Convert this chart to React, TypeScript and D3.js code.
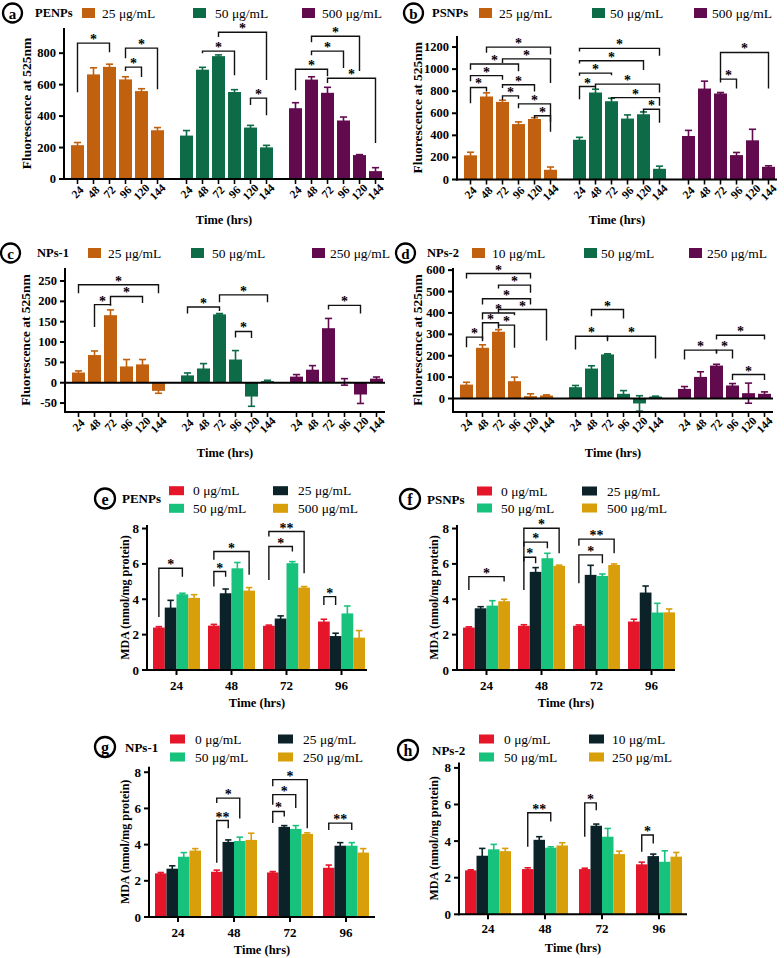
import React from 'react';
import * as d3 from 'd3';

const FONT = '"Liberation Serif", "Times New Roman", Times, serif';

// ---------- categories ----------
const TIMES_FL = ['24', '48', '72', '96', '120', '144'];
const TIMES_MDA = ['24', '48', '72', '96'];

const FL_COLORS = ['#C1600E', '#0E6B47', '#610B4E'];
const MDA_COLORS = ['#E5162A', '#0B2328', '#17C27D', '#D89F0B'];

// ---------- panel a: PENPs fluorescence ----------
const aLabels = ['25 μg/mL', '50 μg/mL', '500 μg/mL'];
const aMeans = [
  [215, 665, 713, 633, 559, 310],
  [276, 695, 781, 553, 327, 201],
  [450, 632, 548, 372, 152, 50],
];
const aErrs = [
  [17, 42, 17, 17, 15, 17],
  [32, 15, 8, 15, 14, 13],
  [35, 18, 35, 22, 3, 22],
];
// [group, fromBar, toBar, top, leftEnd, rightEnd, label]
const aBrackets: [number, number, number, number, number, number, string][] = [
  [0, 0, 2, 864, 552, 806, '*'], [0, 3, 5, 832, 768, 571, '*'], [0, 3, 4, 711, 686, 648, '*'],
  [1, 1, 3, 813, 800, 660, '*'], [1, 2, 5, 933, 902, 629, '*'], [1, 4, 5, 514, 470, 406, '*'],
  [2, 0, 2, 698, 565, 654, '*'], [2, 1, 3, 813, 787, 705, '*'], [2, 1, 4, 908, 870, 686, '*'], [2, 2, 5, 641, 610, 229, '*'],
];
const aTicks = [0, 200, 400, 600, 800];

// ---------- panel b: PSNPs fluorescence ----------
const bLabels = ['25 μg/mL', '50 μg/mL', '500 μg/mL'];
const bMeans = [
  [219, 752, 703, 502, 548, 88],
  [360, 788, 709, 552, 591, 97],
  [394, 824, 779, 221, 355, 115],
];
const bErrs = [
  [28, 33, 15, 20, 12, 25],
  [22, 30, 27, 33, 21, 24],
  [51, 67, 9, 24, 100, 9],
];
const bBrackets: [number, number, number, number, number, number, string][] = [
  [0, 1, 5, 1199, 1148, 1132, '*'], [0, 2, 5, 1093, 1056, 874, '*'], [0, 0, 3, 1047, 995, 980, '*'],
  [0, 0, 2, 941, 889, 904, '*'], [0, 2, 4, 858, 828, 798, '*'], [0, 0, 1, 834, 691, 798, '*'],
  [0, 2, 3, 758, 721, 731, '*'], [0, 3, 5, 685, 645, 524, '*'], [0, 4, 5, 578, 554, 432, '*'],
  [1, 0, 5, 1188, 1160, 1120, '*'], [1, 0, 4, 1076, 1050, 991, '*'], [1, 0, 2, 964, 940, 945, '*'],
  [1, 0, 1, 842, 727, 820, '*'], [1, 1, 5, 864, 845, 788, '*'], [1, 2, 5, 742, 725, 667, '*'],
  [1, 4, 5, 636, 606, 515, '*'],
  [2, 2, 5, 1151, 909, 824, '*'], [2, 2, 3, 909, 879, 824, '*'],
];
const bTicks = [0, 200, 400, 600, 800, 1000, 1200];

// ---------- panel c: NPs-1 fluorescence ----------
const cLabels = ['25 μg/mL', '50 μg/mL', '250 μg/mL'];
const cMeans = [
  [25, 68, 166, 40, 45, -20],
  [18, 35, 168, 57, -34, 4],
  [15, 32, 134, 2, -29, 10],
];
const cErrs = [
  [4, 10, 13, 17, 12, 6],
  [6, 12, 2, 22, 24, 2],
  [5, 10, 24, 8, 22, 4],
];
const cBrackets: [number, number, number, number, number, number, string][] = [
  [0, 0, 5, 241, 220, 220, '*'], [0, 2, 4, 212, 190, 196, '*'], [0, 1, 2, 192, 137, 190, '*'],
  [1, 0, 2, 186, 170, 176, '*'], [1, 2, 5, 216, 198, 198, '*'], [1, 3, 4, 126, 111, 110, '*'],
  [2, 2, 4, 190, 180, 170, '*'],
];
const cTicks = [-50, 0, 50, 100, 150, 200, 250];

// ---------- panel d: NPs-2 fluorescence ----------
const dLabels = ['10 μg/mL', '50 μg/mL', '250 μg/mL'];
const dMeans = [
  [65, 237, 312, 81, 11, 14],
  [53, 140, 206, 22, -23, 9],
  [45, 101, 154, 61, 25, 22],
];
const dErrs = [
  [11, 14, 10, 19, 11, 3],
  [8, 13, 3, 15, 36, 2],
  [11, 24, 6, 9, 47, 9],
];
const dBrackets: [number, number, number, number, number, number, string][] = [
  [0, 0, 4, 584, 561, 561, '*'], [0, 2, 4, 530, 514, 494, '*'], [0, 1, 4, 466, 439, 439, '*'],
  [0, 2, 5, 416, 400, 271, '*'], [0, 1, 3, 400, 369, 389, '*'], [0, 1, 2, 354, 268, 338, '*'],
  [0, 2, 3, 343, 327, 237, '*'], [0, 0, 1, 287, 240, 276, '*'],
  [1, 1, 3, 416, 385, 374, '*'], [1, 0, 2, 291, 229, 268, '*'], [1, 2, 5, 291, 276, 187, '*'],
  [2, 2, 5, 296, 276, 276, '*'], [2, 0, 2, 226, 182, 213, '*'], [2, 2, 3, 226, 209, 187, '*'],
  [2, 3, 5, 112, 86, 86, '*'],
];
const dTicks = [0, 100, 200, 300, 400, 500, 600];

// ---------- MDA panels (series x time) ----------
const mdaTicks = [0, 2, 4, 6, 8];

const eLabels = ['0 μg/mL', '25 μg/mL', '50 μg/mL', '500 μg/mL'];
const eMeans = [
  [2.40, 2.51, 2.50, 2.74],
  [3.53, 4.34, 2.91, 1.92],
  [4.28, 5.75, 6.04, 3.20],
  [4.08, 4.49, 4.66, 1.83],
];
const eErrs = [
  [0.05, 0.07, 0.04, 0.13],
  [0.41, 0.24, 0.15, 0.16],
  [0.06, 0.33, 0.09, 0.42],
  [0.18, 0.17, 0.06, 0.40],
];
// [timeGroup, fromSeries, toSeries, top, leftEnd, rightEnd, label]
const eBrackets: [number, number, number, number, number, number, string][] = [
  [0, 0, 2, 5.75, 3.0, 5.28, '*'], [1, 0, 1, 5.57, 4.72, 5.28, '*'], [1, 0, 3, 6.70, 6.23, 5.38, '*'],
  [2, 0, 2, 6.98, 5.09, 6.70, '*'], [2, 0, 3, 7.83, 7.55, 5.47, '**'], [3, 0, 1, 4.15, 3.68, 3.68, '*'],
];

const fLabels = ['0 μg/mL', '25 μg/mL', '50 μg/mL', '500 μg/mL'];
const fMeans = [
  [2.40, 2.50, 2.50, 2.74],
  [3.49, 5.55, 5.38, 4.38],
  [3.64, 6.32, 5.32, 3.25],
  [3.89, 5.89, 5.94, 3.26],
];
const fErrs = [
  [0.04, 0.06, 0.05, 0.13],
  [0.09, 0.24, 0.54, 0.37],
  [0.28, 0.28, 0.11, 0.52],
  [0.11, 0.04, 0.06, 0.19],
];
const fBrackets: [number, number, number, number, number, number, string][] = [
  [0, 0, 3, 5.28, 4.53, 5.0, '*'], [1, 0, 1, 6.38, 6.13, 6.04, '*'], [1, 0, 2, 7.23, 6.98, 6.89, '*'],
  [1, 0, 3, 8.02, 4.53, 6.60, '*'], [2, 0, 2, 6.51, 4.9, 6.04, '*'], [2, 0, 3, 7.40, 7.02, 6.60, '**'],
];

const gLabels = ['0 μg/mL', '25 μg/mL', '50 μg/mL', '250 μg/mL'];
const gMeans = [
  [2.41, 2.50, 2.46, 2.72],
  [2.67, 4.15, 4.98, 3.94],
  [3.33, 4.20, 4.87, 3.94],
  [3.67, 4.26, 4.59, 3.56],
];
const gErrs = [
  [0.05, 0.09, 0.05, 0.15],
  [0.16, 0.11, 0.07, 0.17],
  [0.23, 0.21, 0.18, 0.17],
  [0.11, 0.37, 0.06, 0.22],
];
const gBrackets: [number, number, number, number, number, number, string][] = [
  [1, 0, 1, 5.33, 3.0, 4.9, '**'], [1, 0, 2, 6.57, 6.30, 5.44, '*'], [2, 0, 1, 5.83, 5.19, 5.56, '*'],
  [2, 0, 2, 6.76, 6.20, 6.02, '*'], [2, 0, 3, 7.59, 7.22, 4.9, '*'], [3, 0, 2, 5.19, 4.81, 4.81, '**'],
];

const hLabels = ['0 μg/mL', '10 μg/mL', '50 μg/mL', '250 μg/mL'];
const hMeans = [
  [2.40, 2.47, 2.47, 2.73],
  [3.20, 4.07, 4.84, 3.18],
  [3.55, 3.64, 4.24, 2.87],
  [3.45, 3.76, 3.29, 3.15],
];
const hErrs = [
  [0.03, 0.07, 0.05, 0.12],
  [0.40, 0.17, 0.09, 0.11],
  [0.27, 0.05, 0.45, 0.60],
  [0.15, 0.15, 0.16, 0.23],
];
const hBrackets: [number, number, number, number, number, number, string][] = [
  [1, 0, 2, 5.55, 3.69, 5.07, '**'], [2, 0, 1, 6.09, 4.24, 5.69, '*'], [3, 0, 1, 4.33, 3.42, 3.87, '*'],
];

// ---------- shared pieces ----------
function CircleLetter({ cx, cy, r, letter, size }: any) {
  return (
    <g>
      <circle cx={cx} cy={cy} r={r} fill="none" stroke="#000" strokeWidth={2.3} />
      <text x={cx} y={cy + 0.5} textAnchor="middle" dominantBaseline="central" fontWeight="bold" fontSize={size}>{letter}</text>
    </g>
  );
}

function ErrorBar({ x, w, y, v, e, color }: any) {
  const lo = y(v - e), hi = y(v + e);
  const cw = w * 0.55;
  return (
    <g stroke={color} strokeWidth={1.6}>
      <line x1={x} x2={x} y1={lo} y2={hi} />
      <line x1={x - cw / 2} x2={x + cw / 2} y1={hi} y2={hi} />
      <line x1={x - cw / 2} x2={x + cw / 2} y1={lo} y2={lo} />
    </g>
  );
}

function Bracket({ x1, x2, y, top, l, r, label }: any) {
  return (
    <g>
      <path d={`M${x1},${y(l)}V${y(top)}H${x2}V${y(r)}`} fill="none" stroke="#111" strokeWidth={1.4} />
      <text x={(x1 + x2) / 2} y={y(top) + 1} textAnchor="middle" fontWeight="bold" fontSize={14}>{label}</text>
    </g>
  );
}

// ---------- fluorescence panel ----------
function FlPanel({ c }: any) {
  const y = d3.scaleLinear().domain(c.domain).range([c.yBottom, c.yTop]);
  const gx = d3.scaleBand<string>().domain(['0', '1', '2']).range([c.x0 + 7, c.x0 + 318]).paddingInner(0.1468);
  const bx = d3.scaleBand<string>().domain(TIMES_FL).range([0, gx.bandwidth()]).paddingInner(0.1875);
  const bw = bx.bandwidth();
  const cxOf = (g: number, i: number) => (gx(String(g)) as number) + (bx(TIMES_FL[i]) as number) + bw / 2;
  const xEnd = c.x0 + 320;
  const zero = y(0);
  return (
    <g>
      {/* legend */}
      <CircleLetter cx={c.circle[0]} cy={c.circle[1]} r={9.5} letter={c.letter} size={15} />
      <text x={c.nameX} y={c.legendY} dominantBaseline="central" fontWeight="bold" fontSize={12.5}>{c.name}</text>
      {c.labels.map((lab: string, k: number) => (
        <g key={k}>
          <rect x={c.sqX[k]} y={c.legendY - 5} width={13} height={10} fill={FL_COLORS[k]} />
          <text x={c.txtX[k]} y={c.legendY} dominantBaseline="central" fontSize={13.5}>{lab}</text>
        </g>
      ))}
      {/* error bars then bars */}
      {c.means.map((row: number[], g: number) => row.map((v, i) => (
        <ErrorBar key={`e${g}${i}`} x={cxOf(g, i)} w={bw} y={y} v={v} e={c.errs[g][i]} color={FL_COLORS[g]} />
      )))}
      {c.means.map((row: number[], g: number) => row.map((v, i) => (
        <rect key={`b${g}${i}`} x={cxOf(g, i) - bw / 2} width={bw}
          y={Math.min(y(v), zero)} height={Math.abs(y(v) - zero)} fill={FL_COLORS[g]} />
      )))}
      {/* zero line */}
      {c.domain[0] < 0 && <line x1={c.x0} x2={xEnd} y1={zero} y2={zero} stroke="#000" strokeWidth={2} />}
      {/* axes */}
      <line x1={c.x0} x2={c.x0} y1={c.yTop} y2={c.yBottom + 1} stroke="#000" strokeWidth={2} />
      <line x1={c.x0 - 1} x2={xEnd} y1={c.yBottom} y2={c.yBottom} stroke="#000" strokeWidth={2} />
      {c.ticks.map((t: number) => (
        <g key={t}>
          <line x1={c.x0 - 5} x2={c.x0} y1={y(t)} y2={y(t)} stroke="#000" strokeWidth={2} />
          <text x={c.x0 - 8} y={y(t)} textAnchor="end" dominantBaseline="central" fontWeight="bold" fontSize={12.5}>{t}</text>
        </g>
      ))}
      {c.means.map((row: number[], g: number) => row.map((_v, i) => {
        const x = cxOf(g, i);
        return (
          <g key={`t${g}${i}`}>
            <line x1={x} x2={x} y1={c.yBottom} y2={c.yBottom + 5} stroke="#000" strokeWidth={1.6} />
            <text transform={`translate(${x},${c.yBottom + 13}) rotate(-45)`} textAnchor="middle" dominantBaseline="central" fontWeight="bold" fontSize={11.5}>{TIMES_FL[i]}</text>
          </g>
        );
      }))}
      <text x={(c.x0 + xEnd) / 2} y={c.timeY} textAnchor="middle" dominantBaseline="central" fontWeight="bold" fontSize={12.5}>Time (hrs)</text>
      <text transform={`translate(${c.ylabX},${(c.yTop + c.yBottom) / 2}) rotate(-90)`} textAnchor="middle" dominantBaseline="central" fontWeight="bold" fontSize={13.5}>Fluorescence at 525nm</text>
      {/* brackets */}
      {c.brackets.map((b: any, k: number) => (
        <Bracket key={`k${k}`} x1={cxOf(b[0], b[1])} x2={cxOf(b[0], b[2])} y={y} top={b[3]} l={b[4]} r={b[5]} label={b[6]} />
      ))}
    </g>
  );
}

// ---------- MDA panel ----------
function MdaPanel({ c }: any) {
  const y = d3.scaleLinear().domain(c.domain).range([c.yBottom, c.yTop]);
  const start = c.x0 + 6;
  const gx = d3.scaleBand<string>().domain(TIMES_MDA).range([start, start + c.pitch * 3 + c.gw]).paddingInner((c.pitch - c.gw) / c.pitch);
  const bx = d3.scaleBand<string>().domain(['0', '1', '2', '3']).range([0, gx.bandwidth()]);
  const bw = bx.bandwidth();
  const cxOf = (t: number, s: number) => (gx(TIMES_MDA[t]) as number) + (bx(String(s)) as number) + bw / 2;
  const zero = y(0);
  return (
    <g>
      <CircleLetter cx={c.circle[0]} cy={c.circle[1]} r={10} letter={c.letter} size={16} />
      <text x={c.nameX} y={c.circle[1]} dominantBaseline="central" fontWeight="bold" fontSize={13}>{c.name}</text>
      {c.labels.map((lab: string, k: number) => {
        const col = k % 2, row = Math.floor(k / 2);
        return (
          <g key={k}>
            <rect x={c.sqX[col]} y={c.rows[row] - 4.5} width={15} height={9} fill={MDA_COLORS[k]} />
            <text x={c.txtX[col]} y={c.rows[row]} dominantBaseline="central" fontSize={13.5}>{lab}</text>
          </g>
        );
      })}
      {c.means.map((row: number[], s: number) => row.map((v, t) => (
        <ErrorBar key={`e${s}${t}`} x={cxOf(t, s)} w={bw} y={y} v={v} e={c.errs[s][t]} color={MDA_COLORS[s]} />
      )))}
      {c.means.map((row: number[], s: number) => row.map((v, t) => (
        <rect key={`b${s}${t}`} x={cxOf(t, s) - bw / 2} width={bw} y={y(v)} height={zero - y(v)} fill={MDA_COLORS[s]} />
      )))}
      <line x1={c.x0} x2={c.x0} y1={c.yTop} y2={c.yBottom + 1} stroke="#000" strokeWidth={2} />
      <line x1={c.x0 - 1} x2={c.xEnd} y1={c.yBottom} y2={c.yBottom} stroke="#000" strokeWidth={2} />
      {mdaTicks.map((t) => (
        <g key={t}>
          <line x1={c.x0 - 5} x2={c.x0} y1={y(t)} y2={y(t)} stroke="#000" strokeWidth={2} />
          <text x={c.x0 - 8} y={y(t)} textAnchor="end" dominantBaseline="central" fontWeight="bold" fontSize={13}>{t}</text>
        </g>
      ))}
      {TIMES_MDA.map((tl) => {
        const x = (gx(tl) as number) + gx.bandwidth() / 2;
        return (
          <g key={tl}>
            <line x1={x} x2={x} y1={c.yBottom} y2={c.yBottom + 5} stroke="#000" strokeWidth={2} />
            <text x={x} y={c.tickY} textAnchor="middle" dominantBaseline="central" fontWeight="bold" fontSize={13}>{tl}</text>
          </g>
        );
      })}
      <text x={(c.x0 + c.xEnd) / 2} y={c.timeY} textAnchor="middle" dominantBaseline="central" fontWeight="bold" fontSize={12.5}>Time (hrs)</text>
      <text transform={`translate(${c.ylabX},${(c.yTop + c.yBottom) / 2}) rotate(-90)`} textAnchor="middle" dominantBaseline="central" fontWeight="bold" fontSize={12}>MDA (nmol/mg protein)</text>
      {c.brackets.map((b: any, k: number) => (
        <Bracket key={`k${k}`} x1={cxOf(b[0], b[1])} x2={cxOf(b[0], b[2])} y={y} top={b[3]} l={b[4]} r={b[5]} label={b[6]} />
      ))}
    </g>
  );
}

// ---------- layout ----------
const panelA = { letter: 'a', name: 'PENPs', labels: aLabels, means: aMeans, errs: aErrs, brackets: aBrackets, ticks: aTicks,
  x0: 64, yBottom: 179, yTop: 28, domain: [0, 960], circle: [12.5, 13], nameX: 35, sqX: [82, 193, 302], txtX: [102, 215, 322], legendY: 13, ylabX: 26, timeY: 220 };
const panelB = { letter: 'b', name: 'PSNPs', labels: bLabels, means: bMeans, errs: bErrs, brackets: bBrackets, ticks: bTicks,
  x0: 457, yBottom: 179.5, yTop: 36, domain: [0, 1300], circle: [413.5, 13], nameX: 432, sqX: [479, 592, 694], txtX: [499, 610, 712], legendY: 13, ylabX: 417, timeY: 220 };
const panelC = { letter: 'c', name: 'NPs-1', labels: cLabels, means: cMeans, errs: cErrs, brackets: cBrackets, ticks: cTicks,
  x0: 65, yBottom: 412, yTop: 268, domain: [-72, 282], circle: [10.5, 253], nameX: 37, sqX: [88, 191, 312], txtX: [108, 212, 330], legendY: 253, ylabX: 25, timeY: 453 };
const panelD = { letter: 'd', name: 'NPs-2', labels: dLabels, means: dMeans, errs: dErrs, brackets: dBrackets, ticks: dTicks,
  x0: 453, yBottom: 412, yTop: 268, domain: [-63, 610], circle: [405.5, 253], nameX: 427, sqX: [472, 584, 689], txtX: [492, 601, 707], legendY: 253, ylabX: 417, timeY: 453 };

const panelE = { letter: 'e', name: 'PENPs', labels: eLabels, means: eMeans, errs: eErrs, brackets: eBrackets,
  x0: 147, xEnd: 367, pitch: 55, gw: 47, yBottom: 670, yTop: 525, domain: [0, 8.2], circle: [105, 498.5], nameX: 122,
  sqX: [169, 273], txtX: [193, 298], rows: [490.7, 508.3], ylabX: 125, tickY: 685, timeY: 703 };
const panelF = { letter: 'f', name: 'PSNPs', labels: fLabels, means: fMeans, errs: fErrs, brackets: fBrackets,
  x0: 457, xEnd: 675, pitch: 55, gw: 47, yBottom: 670, yTop: 525, domain: [0, 8.2], circle: [410, 499], nameX: 427,
  sqX: [477, 582], txtX: [501, 607], rows: [491, 508], ylabX: 434, tickY: 685, timeY: 703 };
const panelG = { letter: 'g', name: 'NPs-1', labels: gLabels, means: gMeans, errs: gErrs, brackets: gBrackets,
  x0: 149, xEnd: 375, pitch: 56, gw: 46, yBottom: 917, yTop: 766.8, domain: [0, 8.3], circle: [105, 747], nameX: 125,
  sqX: [170, 278], txtX: [195, 303], rows: [739, 757], ylabX: 125, tickY: 932, timeY: 950 };
const panelH = { letter: 'h', name: 'NPs-2', labels: hLabels, means: hMeans, errs: hErrs, brackets: hBrackets,
  x0: 459, xEnd: 687, pitch: 57, gw: 46, yBottom: 914.3, yTop: 762.4, domain: [0, 8.3], circle: [408, 750], nameX: 432,
  sqX: [479, 589], txtX: [504, 612], rows: [739, 757], ylabX: 434, tickY: 928, timeY: 948 };

export default function App() {
  return (
    <svg width={784} height={958} viewBox="0 0 784 958"
      style={{ position: 'absolute', left: 0, top: 0, background: '#fff' }}
      fontFamily={FONT} fill="#000">
      <rect width={784} height={958} fill="#fff" />
      <FlPanel c={panelA} />
      <FlPanel c={panelB} />
      <FlPanel c={panelC} />
      <FlPanel c={panelD} />
      <MdaPanel c={panelE} />
      <MdaPanel c={panelF} />
      <MdaPanel c={panelG} />
      <MdaPanel c={panelH} />
    </svg>
  );
}
